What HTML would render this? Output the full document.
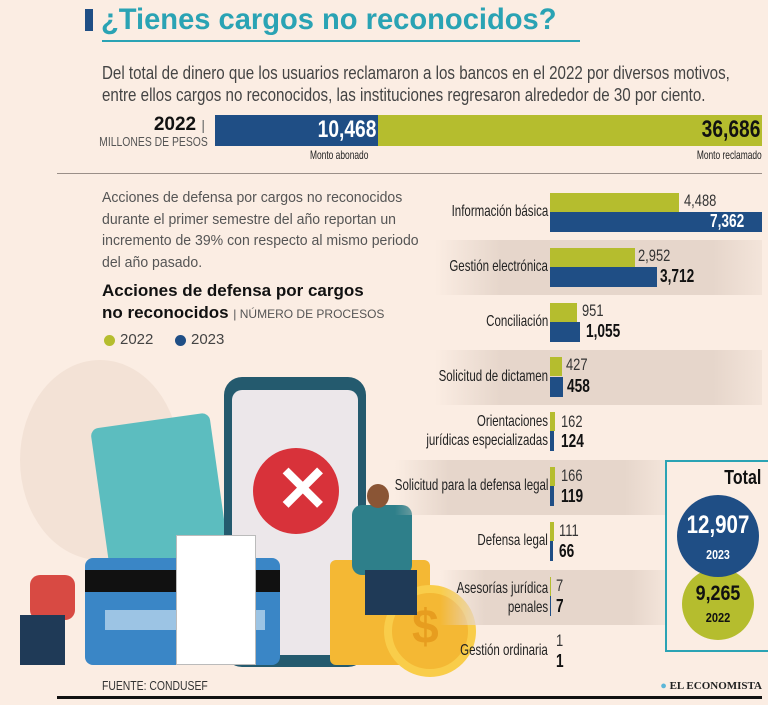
<!DOCTYPE html>
<html><head><meta charset="utf-8"><style>
*{margin:0;padding:0;box-sizing:border-box}
body{width:768px;height:705px;background:#fbede3;position:relative;overflow:hidden;font-family:"Liberation Sans",sans-serif;color:#333}
.a{position:absolute;white-space:nowrap}
.L{transform:scaleX(.8);transform-origin:left center}
.R{transform:scaleX(.8);transform-origin:right center}
.lab{position:absolute;right:220px;text-align:right;font-size:16px;color:#222;line-height:19px;transform:scaleX(.72);transform-origin:right center;white-space:nowrap}
.g{position:absolute;left:550px;height:19px;background:#b5bd2e}
.b{position:absolute;left:550px;height:20px;background:#1f4e85}
.vg{position:absolute;font-size:17px;color:#333;transform:scaleX(.76);transform-origin:left center}
.vb{position:absolute;font-size:18px;font-weight:bold;color:#111;transform:scaleX(.76);transform-origin:left center}
.band{position:absolute;height:55px;background:linear-gradient(90deg,rgba(225,208,196,0),#e6d6cb 20%,#e6d6cb 85%,rgba(225,208,196,0.3))}
</style></head><body>
<div class="a" style="left:85px;top:9px;width:8px;height:22px;background:#1f4e85"></div>
<div class="a" style="left:101px;top:3px;font-size:30px;font-weight:bold;color:#2aa3b4;transform:scaleX(.97);transform-origin:left">¿Tienes cargos no reconocidos?</div>
<div class="a" style="left:102px;top:40px;width:478px;height:2px;background:#2aa3b4"></div>
<div class="a L" style="left:102px;top:62px;font-size:18px;line-height:22px;color:#444;transform:scaleX(.84)">Del total de dinero que los usuarios reclamaron a los bancos en el 2022 por diversos motivos,<br>entre ellos cargos no reconocidos, las instituciones regresaron alrededor de 30 por ciento.</div>
<div class="a" style="right:563px;top:114px;font-size:19px;font-weight:bold;color:#111">2022 <span style="font-weight:normal;font-size:14px;color:#666">|</span></div>
<div class="a R" style="right:560px;top:134px;font-size:13px;color:#555">MILLONES DE PESOS</div>
<div class="a" style="left:215px;top:115px;width:163px;height:31px;background:#1f4e85"></div>
<div class="a" style="left:378px;top:115px;width:384px;height:31px;background:#b5bd2e"></div>
<div class="a R" style="right:392px;top:116px;font-size:24px;font-weight:bold;color:#fff">10,468</div>
<div class="a R" style="right:8px;top:116px;font-size:24px;font-weight:bold;color:#111">36,686</div>
<div class="a L" style="left:310px;top:148px;font-size:12px;color:#222;transform:scaleX(.7)">Monto abonado</div>
<div class="a R" style="right:6px;top:148px;font-size:12px;color:#222;transform:scaleX(.7)">Monto reclamado</div>
<div class="a" style="left:57px;top:173px;width:705px;height:1px;background:#9a8f88"></div>
<div class="a" style="left:102px;top:188px;line-height:21.5px;color:#555;font-size:14.5px;transform:scaleX(.97);transform-origin:left">Acciones de defensa por cargos no reconocidos<br>durante el primer semestre del año reportan un<br>incremento de 39% con respecto al mismo periodo<br>del año pasado.</div>
<div class="a" style="left:102px;top:280px;font-size:17px;font-weight:bold;line-height:22px;color:#111">Acciones de defensa por cargos<br>no reconocidos <span style="font-weight:normal;font-size:12px;color:#555">| NÚMERO DE PROCESOS</span></div>
<div class="a" style="left:104px;top:335px;width:11px;height:11px;border-radius:50%;background:#b5bd2e"></div>
<div class="a" style="left:120px;top:331px;font-size:15px;color:#444">2022</div>
<div class="a" style="left:175px;top:335px;width:11px;height:11px;border-radius:50%;background:#1f4e85"></div>
<div class="a" style="left:191px;top:331px;font-size:15px;color:#444">2023</div>

<div class="a" style="left:20px;top:360px;width:160px;height:200px;border-radius:50%;background:#f3e2d6"></div>
<div class="a" style="left:100px;top:420px;width:120px;height:150px;background:#5cbdbf;transform:rotate(-8deg);border-radius:8px"></div>
<div class="a" style="left:224px;top:377px;width:142px;height:290px;border-radius:18px;background:#245a6e"></div>
<div class="a" style="left:232px;top:390px;width:126px;height:265px;border-radius:10px;background:#ece7ea"></div>
<div class="a" style="left:253px;top:448px;width:86px;height:86px;border-radius:50%;background:#d8323a"></div>
<div class="a" style="left:276px;top:452px;font-size:64px;color:#fff;font-weight:bold">✕</div>
<div class="a" style="left:85px;top:558px;width:195px;height:107px;border-radius:8px;background:#3a86c6"></div>
<div class="a" style="left:85px;top:570px;width:195px;height:22px;background:#111"></div>
<div class="a" style="left:105px;top:610px;width:160px;height:20px;background:#9cc4e4"></div>
<div class="a" style="left:176px;top:535px;width:80px;height:130px;background:#fff;border:1px solid #bbb"></div>
<div class="a" style="left:330px;top:560px;width:100px;height:105px;background:#f4b834;border-radius:6px"></div>
<div class="a" style="left:384px;top:585px;width:92px;height:92px;border-radius:50%;background:#f4b834;border:8px solid #f9cd4a"></div>
<div class="a" style="left:412px;top:600px;font-size:48px;color:#e79d1f;font-weight:bold">$</div>
<div class="a" style="left:352px;top:505px;width:60px;height:70px;background:#2e7f8a;border-radius:10px"></div>
<div class="a" style="left:367px;top:484px;width:22px;height:24px;border-radius:50%;background:#8a5535"></div>
<div class="a" style="left:365px;top:570px;width:52px;height:45px;background:#1f3a57"></div>
<div class="a" style="left:30px;top:575px;width:45px;height:45px;background:#d84a43;border-radius:10px"></div>
<div class="a" style="left:20px;top:615px;width:45px;height:50px;background:#1f3a57"></div>

<div class="band" style="left:435px;top:240px;width:327px"></div>
<div class="band" style="left:435px;top:350px;width:327px"></div>
<div class="band" style="left:395px;top:460px;width:270px"></div>
<div class="band" style="left:440px;top:570px;width:225px"></div>

<div class="lab" style="top:202px">Información básica</div>
<div class="g" style="top:193px;width:129px"></div><div class="b" style="top:212px;width:212px"></div>
<div class="vg" style="left:684px;top:191px">4,488</div><div class="vb" style="left:710px;top:211px;color:#fff">7,362</div>

<div class="lab" style="top:257px">Gestión electrónica</div>
<div class="g" style="top:248px;width:85px"></div><div class="b" style="top:267px;width:107px"></div>
<div class="vg" style="left:638px;top:246px">2,952</div><div class="vb" style="left:660px;top:266px">3,712</div>

<div class="lab" style="top:312px">Conciliación</div>
<div class="g" style="top:303px;width:27px"></div><div class="b" style="top:322px;width:30px"></div>
<div class="vg" style="left:582px;top:301px">951</div><div class="vb" style="left:586px;top:321px">1,055</div>

<div class="lab" style="top:367px">Solicitud de dictamen</div>
<div class="g" style="top:357px;width:12px"></div><div class="b" style="top:377px;width:13px"></div>
<div class="vg" style="left:566px;top:355px">427</div><div class="vb" style="left:567px;top:376px">458</div>

<div class="lab" style="top:412px">Orientaciones<br>jurídicas especializadas</div>
<div class="g" style="top:412px;width:5px"></div><div class="b" style="top:431px;width:4px"></div>
<div class="vg" style="left:561px;top:412px">162</div><div class="vb" style="left:561px;top:431px">124</div>

<div class="lab" style="top:476px">Solicitud para la defensa legal</div>
<div class="g" style="top:467px;width:5px"></div><div class="b" style="top:486px;width:4px"></div>
<div class="vg" style="left:561px;top:466px">166</div><div class="vb" style="left:561px;top:486px">119</div>

<div class="lab" style="top:531px">Defensa legal</div>
<div class="g" style="top:522px;width:4px"></div><div class="b" style="top:541px;width:3px"></div>
<div class="vg" style="left:559px;top:521px">111</div><div class="vb" style="left:559px;top:541px">66</div>

<div class="lab" style="top:579px">Asesorías jurídica<br>penales</div>
<div class="g" style="top:577px;width:1px"></div><div class="b" style="top:596px;width:1px"></div>
<div class="vg" style="left:556px;top:576px">7</div><div class="vb" style="left:556px;top:596px">7</div>

<div class="lab" style="top:641px">Gestión ordinaria</div>
<div class="vg" style="left:556px;top:631px">1</div><div class="vb" style="left:556px;top:651px">1</div>

<div class="a" style="left:665px;top:460px;width:110px;height:192px;border:2px solid #2aa3b4"></div>
<div class="a R" style="right:7px;top:467px;font-size:20px;font-weight:bold;color:#111">Total</div>
<div class="a" style="left:682px;top:568px;width:72px;height:72px;border-radius:50%;background:#b5bd2e"></div>
<div class="a" style="left:677px;top:495px;width:82px;height:82px;border-radius:50%;background:#1f4e85"></div>
<div class="a" style="left:672px;top:512px;width:92px;text-align:center;color:#fff;font-size:25px;font-weight:bold;line-height:26px;transform:scaleX(.82)">12,907<br><span style="font-size:13px">2023</span></div>
<div class="a" style="left:682px;top:583px;width:72px;text-align:center;color:#111;font-size:21px;font-weight:bold;line-height:22px;transform:scaleX(.85)">9,265<br><span style="font-size:13px">2022</span></div>

<div class="a L" style="left:102px;top:678px;font-size:13px;color:#333">FUENTE: CONDUSEF</div>
<div class="a" style="right:6px;top:680px;font-size:11px;font-weight:bold;color:#222;font-family:'Liberation Serif',serif"><span style="color:#5cb6d8">●</span> EL ECONOMISTA</div>
<div class="a" style="left:57px;top:696px;width:705px;height:3px;background:#111"></div>
</body></html>
